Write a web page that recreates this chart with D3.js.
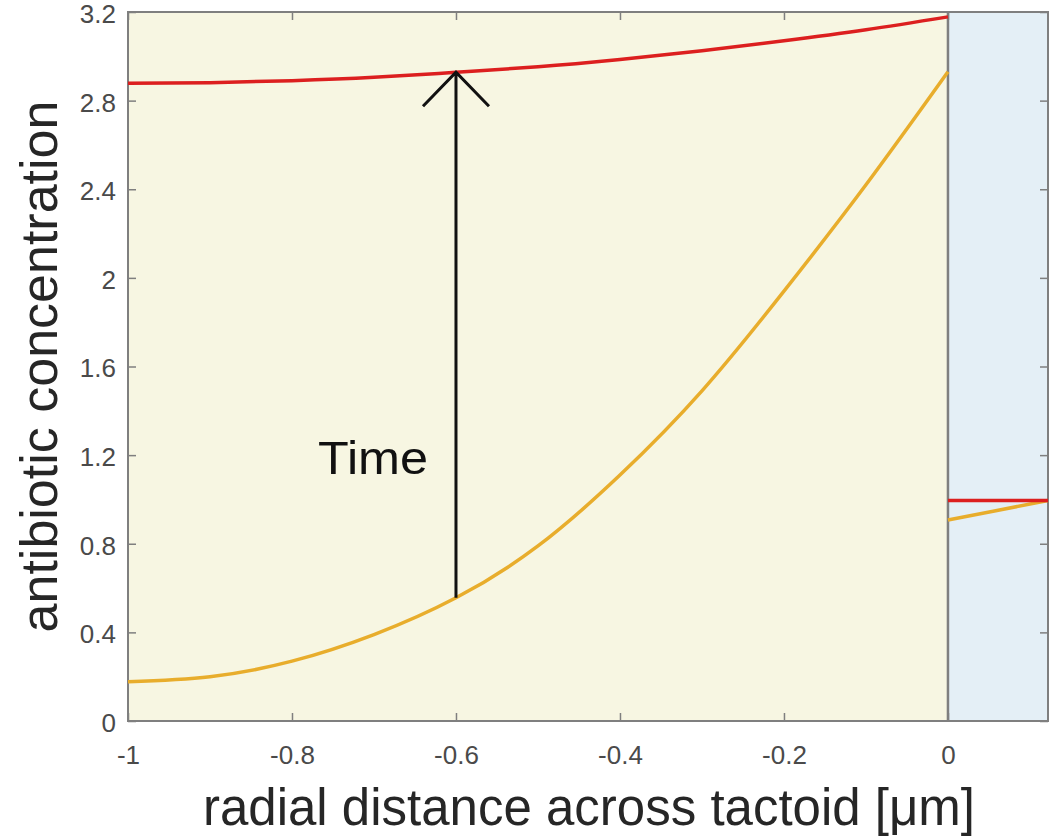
<!DOCTYPE html>
<html>
<head>
<meta charset="utf-8">
<script src="https://cdn.jsdelivr.net/npm/d3@7"></script>
<style>
  html, body { margin: 0; padding: 0; background: #fff; }
  text { font-family: "Liberation Sans", Arial, sans-serif; }
</style>
</head>
<body>
<div id="container"></div>
<script>
// values
const xTicks = [-1, -0.8, -0.6, -0.4, -0.2, 0]
const yTicks = [0, 0.4, 0.8, 1.2, 1.6, 2, 2.4, 2.8, 3.2]
const xLeft = [-1, -0.9, -0.8, -0.7, -0.6, -0.5, -0.4, -0.3, -0.2, -0.1, 0]
const redLeft = [2.878, 2.881, 2.89, 2.905, 2.928, 2.953, 2.986, 3.025, 3.07, 3.12, 3.178]
const orangeLeft = [0.177, 0.2, 0.27, 0.39, 0.556, 0.79, 1.11, 1.49, 1.94, 2.42, 2.93]
const xRight = [0, 0.122]
const redRight = [0.995, 0.995]
const orangeRight = [0.907, 0.995]
const arrowX = -0.6
const arrowFrom = 0.556
const arrowTo = 2.928

const width = 1055, height = 836
const margin = {left: 128, right: 7, top: 12, bottom: 115}

const svg = d3.select("#container")
    .append("svg")
    .attr("width", width)
    .attr("height", height)

const x = d3.scaleLinear()
    .domain([-1, 0.122])
    .range([margin.left, width - margin.right])
const y = d3.scaleLinear()
    .domain([0, 3.2])
    .range([height - margin.bottom, margin.top])

//backgrounds: tactoid (yellow) and outside (blue)
svg.append("rect")
    .attr("x", x(-1)).attr("y", y(3.2))
    .attr("width", x(0) - x(-1)).attr("height", y(0) - y(3.2))
    .attr("fill", "#f7f6e2")
svg.append("rect")
    .attr("x", x(0)).attr("y", y(3.2))
    .attr("width", x(0.122) - x(0)).attr("height", y(0) - y(3.2))
    .attr("fill", "#e4eff6")

//axes with inward ticks
const axisColor = "#7f7f7f"
const tickLen = 8
const gx = svg.append("g")
    .attr("transform", `translate(0,${y(0)})`)
    .call(d3.axisBottom(x).tickValues(xTicks).tickSize(-tickLen).tickPadding(25)
        .tickFormat(d => d3.format("")(d).replace("−", "-")))
const gxTop = svg.append("g")
    .attr("transform", `translate(0,${y(3.2)})`)
    .call(d3.axisTop(x).tickValues(xTicks).tickSize(-tickLen).tickFormat(""))
const gy = svg.append("g")
    .attr("transform", `translate(${x(-1)},0)`)
    .call(d3.axisLeft(y).tickValues(yTicks).tickSize(-tickLen).tickPadding(12)
        .tickFormat(d3.format("")))
const gyRight = svg.append("g")
    .attr("transform", `translate(${x(0.122)},0)`)
    .call(d3.axisRight(y).tickValues(yTicks).tickSize(-tickLen).tickFormat(""))

;[gx, gxTop, gy, gyRight].forEach(g => {
    g.select(".domain").remove()
    g.selectAll("line").attr("stroke", axisColor).attr("stroke-width", 1.5)
    g.selectAll("text")
        .attr("fill", "#4a4a4a")
        .style("font-size", "26px")
        .style("font-family", "'Liberation Sans', Arial, sans-serif")
})
gx.selectAll("text").attr("dy", "0.71em")
gy.selectAll("text").attr("dy", "0.4em")

//box and separator at x = 0
svg.append("rect")
    .attr("x", x(-1)).attr("y", y(3.2))
    .attr("width", x(0.122) - x(-1)).attr("height", y(0) - y(3.2))
    .attr("fill", "none")
    .attr("stroke", axisColor)
    .attr("stroke-width", 2)
svg.append("line")
    .attr("x1", x(0)).attr("x2", x(0))
    .attr("y1", y(0)).attr("y2", y(3.2))
    .attr("stroke", axisColor)
    .attr("stroke-width", 2.5)

//curves
const line = d3.line()
    .x(d => x(d[0]))
    .y(d => y(d[1]))
    .curve(d3.curveNatural)

const curves = [
    {xs: xLeft, ys: orangeLeft, color: "#e8ad2c"},
    {xs: xRight, ys: orangeRight, color: "#e8ad2c"},
    {xs: xLeft, ys: redLeft, color: "#dc1f1f"},
    {xs: xRight, ys: redRight, color: "#dc1f1f"}
]
svg.selectAll(".curve")
    .data(curves)
    .enter().append("path")
    .attr("class", "curve")
    .attr("d", c => line(c.xs.map((v, i) => [v, c.ys[i]])))
    .attr("fill", "none")
    .attr("stroke", c => c.color)
    .attr("stroke-width", 3.5)

//time arrow
const tipX = x(arrowX), tipY = y(arrowTo)
svg.append("path")
    .attr("d", `M${tipX},${y(arrowFrom)}L${tipX},${tipY}M${tipX - 33},${tipY + 34}L${tipX},${tipY}L${tipX + 33},${tipY + 34}`)
    .attr("fill", "none")
    .attr("stroke", "#111")
    .attr("stroke-width", 3)

svg.append("text")
    .attr("x", 318).attr("y", 474)
    .style("font-size", "46px")
    .attr("textLength", 110)
    .attr("lengthAdjust", "spacingAndGlyphs")
    .attr("fill", "#111")
    .text("Time")

//axis labels
svg.append("text")
    .attr("x", 589)
    .attr("y", 825)
    .attr("text-anchor", "middle")
    .style("font-size", "51px")
    .attr("fill", "#262626")
    .text("radial distance across tactoid [μm]")

svg.append("text")
    .attr("transform", `translate(57,${(y(0) + y(3.2)) / 2}) rotate(-90)`)
    .attr("text-anchor", "middle")
    .style("font-size", "52px")
    .attr("fill", "#262626")
    .text("antibiotic concentration")
</script>
</body>
</html>
